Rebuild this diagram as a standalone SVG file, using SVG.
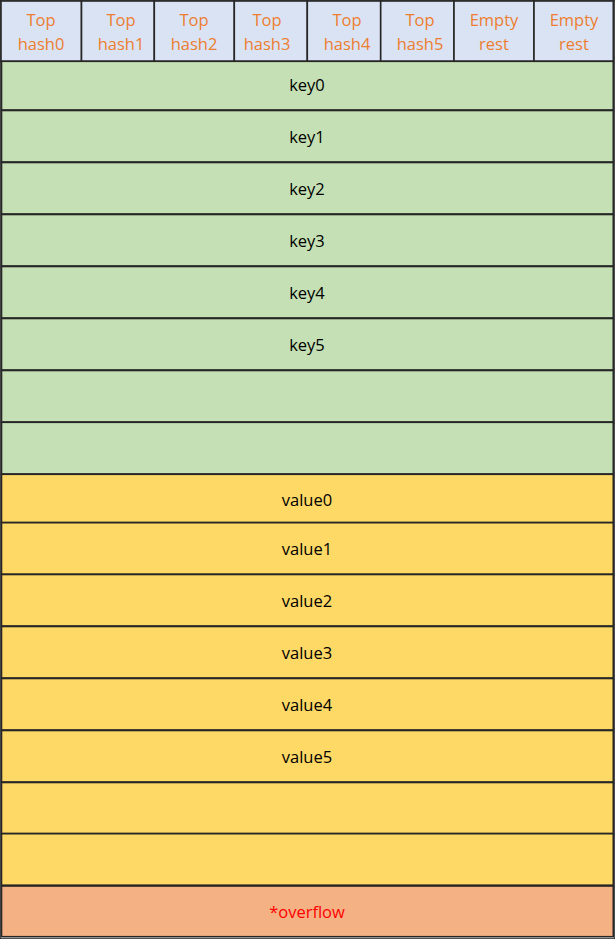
<svg xmlns="http://www.w3.org/2000/svg" width="615" height="939" viewBox="0 0 615 939">
<style>
rect{stroke:#262626;stroke-width:1.6}
.h{fill:#DAE3F3}
.k{fill:#C5E0B4}
.v{fill:#FFD966}
.o{fill:#F4B183}
text{font-family:"Open Sans","Noto Sans","Liberation Sans",sans-serif;font-size:16.5px;text-anchor:middle;dominant-baseline:central;fill:#000}
.ht{fill:#ED7D31}
.ot{fill:#FF0000}
</style>
<rect x="0" y="0" width="615" height="939" fill="#fff" stroke="none"/>
<g id="tophash0"><rect class="h" x="1" y="1" width="80.5" height="60.3"/><text class="ht" x="41" y="19">Top</text><text class="ht" x="41" y="43">hash0</text></g>
<g id="tophash1"><rect class="h" x="81.5" y="1" width="72.8" height="60.3"/><text class="ht" x="121" y="19">Top</text><text class="ht" x="121" y="43">hash1</text></g>
<g id="tophash2"><rect class="h" x="154.3" y="1" width="80" height="60.3"/><text class="ht" x="194" y="19">Top</text><text class="ht" x="194" y="43">hash2</text></g>
<g id="tophash3"><rect class="h" x="234.3" y="1" width="73" height="60.3"/><text class="ht" x="267" y="19">Top</text><text class="ht" x="267" y="43">hash3</text></g>
<g id="tophash4"><rect class="h" x="307.3" y="1" width="73.4" height="60.3"/><text class="ht" x="347" y="19">Top</text><text class="ht" x="347" y="43">hash4</text></g>
<g id="tophash5"><rect class="h" x="380.7" y="1" width="73.3" height="60.3"/><text class="ht" x="420" y="19">Top</text><text class="ht" x="420" y="43">hash5</text></g>
<g id="empty6"><rect class="h" x="454" y="1" width="80" height="60.3"/><text class="ht" x="494" y="19">Empty</text><text class="ht" x="494" y="43">rest</text></g>
<g id="empty7"><rect class="h" x="534" y="1" width="79.3" height="60.3"/><text class="ht" x="574" y="19">Empty</text><text class="ht" x="574" y="43">rest</text></g>
<g id="key0"><rect class="k" x="1.5" y="61.3" width="611.8" height="48.7"/><text x="307" y="84">key0</text></g>
<g id="key1"><rect class="k" x="1.5" y="110.5" width="611.8" height="51.5"/><text x="307" y="136">key1</text></g>
<g id="key2"><rect class="k" x="1.5" y="162.5" width="611.8" height="51.5"/><text x="307" y="188">key2</text></g>
<g id="key3"><rect class="k" x="1.5" y="214.5" width="611.8" height="51.5"/><text x="307" y="240">key3</text></g>
<g id="key4"><rect class="k" x="1.5" y="266.5" width="611.8" height="51.5"/><text x="307" y="292">key4</text></g>
<g id="key5"><rect class="k" x="1.5" y="318.5" width="611.8" height="51.5"/><text x="307" y="344">key5</text></g>
<g id="key6"><rect class="k" x="1.5" y="370.5" width="611.8" height="51.5"/></g>
<g id="key7"><rect class="k" x="1.5" y="422.3" width="611.8" height="51.7"/></g>
<g id="value0"><rect class="v" x="1.5" y="474.3" width="611.8" height="48.2"/><text x="307" y="499">value0</text></g>
<g id="value1"><rect class="v" x="1.5" y="522.7" width="611.8" height="51.5"/><text x="307" y="548">value1</text></g>
<g id="value2"><rect class="v" x="1.5" y="574.5" width="611.8" height="51.5"/><text x="307" y="600">value2</text></g>
<g id="value3"><rect class="v" x="1.5" y="626.5" width="611.8" height="51.5"/><text x="307" y="652">value3</text></g>
<g id="value4"><rect class="v" x="1.5" y="678.5" width="611.8" height="51.5"/><text x="307" y="704">value4</text></g>
<g id="value5"><rect class="v" x="1.5" y="730.5" width="611.8" height="51.5"/><text x="307" y="756">value5</text></g>
<g id="value6"><rect class="v" x="1.5" y="782.5" width="611.8" height="51"/></g>
<g id="value7"><rect class="v" x="1.5" y="833.7" width="611.8" height="51.5"/></g>
<g id="overflow"><rect class="o" x="1.5" y="886" width="611.8" height="50.7"/><text class="ot" x="307" y="911">*overflow</text></g>
<g id="connectors"></g>
</svg>
